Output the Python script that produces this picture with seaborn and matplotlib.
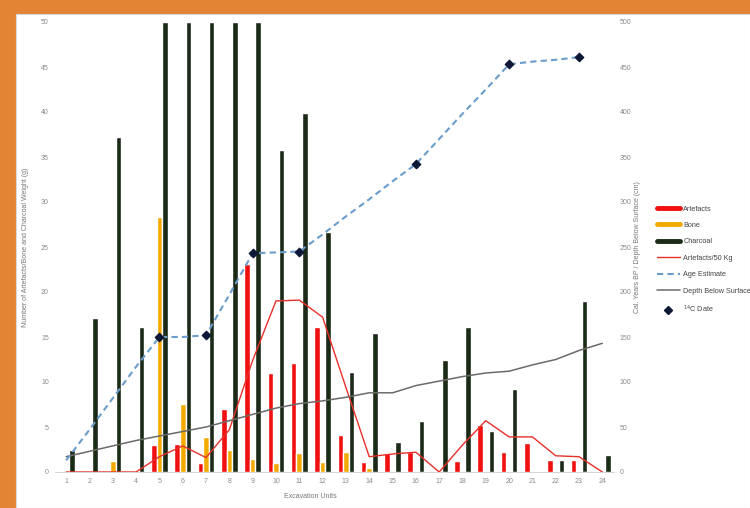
import numpy as np
import pandas as pd
import matplotlib
matplotlib.use("Agg")
import matplotlib.pyplot as plt
from matplotlib.lines import Line2D
from matplotlib.patches import Rectangle
import seaborn as sns

# ---------------- data ----------------
units = [str(i) for i in range(1, 25)]
artefacts = [0, 0, 0, 0, 3.0, 3.1, 1.0, 7.0, 23.1, 11.0, 12.1, 16.1,
             4.1, 1.1, 2.1, 2.2, 0, 1.2, 5.2, 2.2, 3.2, 1.3, 1.3, 0]
bone = [0, 0, 1.2, 0, 28.3, 7.6, 3.9, 2.4, 1.4, 1.0, 2.1, 1.1,
        2.2, 0.4, 0, 0, 0, 0, 0, 0, 0, 0, 0, 0]
charcoal = [2.5, 17.1, 37.2, 16.1, 50, 50, 50, 50, 50, 35.8, 39.9, 26.7,
            11.1, 15.4, 3.3, 5.7, 12.5, 16.1, 4.6, 9.2, 0, 1.3, 19.0, 1.9]
artefacts_50kg = [0, 0, 0, 0, 1.7, 2.9, 1.6, 4.7, 12.4, 19.0, 19.1, 17.2,
                  9.4, 1.7, 2.0, 2.2, 0, 3.0, 5.7, 3.9, 3.9, 1.8, 1.7, 0]
age_estimate = [13, 47, 82, 117, 150, 150, 152, 197, 243, 244, 245, 264,
                284, 303, 323, 342, 370, 398, 425, 453, 456, 458, 461, np.nan]
depth = [17, 23, 29, 35, 40, 45, 50, 57, 64, 71, 76, 79,
         83, 88, 88, 96, 101, 106, 110, 112, 119, 125, 135, 143]
c14_units = ["5", "7", "9", "11", "16", "20", "23"]
c14_dates = [150, 152, 243, 245, 342, 453, 461]

left_ticks = [0, 5, 10, 15, 20, 25, 30, 35, 40, 45, 50]
right_ticks = [0, 50, 100, 150, 200, 250, 300, 350, 400, 450, 500]

series_names = ["Artefacts", "Bone", "Charcoal"]
colors = {"Artefacts": "#F01010", "Bone": "#F2A900", "Charcoal": "#1B2A17"}

df = pd.DataFrame({
    "unit": units * 3,
    "series": ["Artefacts"] * 24 + ["Bone"] * 24 + ["Charcoal"] * 24,
    "value": artefacts + bone + charcoal,
})

# ---------------- figure ----------------
sns.set_theme(style="white")
plt.rcParams["font.family"] = ["Liberation Sans", "DejaVu Sans"]

fig = plt.figure(figsize=(7.5, 5.08), dpi=100)
fig.patch.set_facecolor("#E38434")
paper = Rectangle((0.021, 0.0), 0.979, 1 - 14 / 508,
                  transform=fig.transFigure, facecolor="white",
                  edgecolor="#d9d9d9", lw=0.8, zorder=-10)
fig.add_artist(paper)

ax = fig.add_axes([54.5 / 750, 36 / 508, 559.5 / 750, 450 / 508])
ax.set_facecolor("none")

sns.barplot(data=df, x="unit", y="value", hue="series", order=units,
            hue_order=series_names, palette=colors, width=0.72, gap=0,
            saturation=1, legend=False, ax=ax, errorbar=None)

xpos = np.arange(len(units))
sns.lineplot(x=xpos, y=artefacts_50kg, ax=ax, color="#E8302A", lw=1.0,
             zorder=4, legend=False)

ax2 = ax.twinx()
ax2.set_facecolor("none")
sns.lineplot(x=xpos, y=depth, ax=ax2, color="#6A6A6A", lw=1.1, legend=False)
sns.lineplot(x=xpos, y=age_estimate, ax=ax2, color="#6A9CCC", lw=1.5,
             legend=False)
ax2.lines[-1].set_linestyle((0, (3, 2)))
c14_pos = [units.index(u) for u in c14_units]
ax2.scatter(c14_pos, c14_dates, marker="D", s=18, color="#0D1836", zorder=5)

ax.set_xlim(-0.5, 23.5)
ax.set_ylim(0, 50)
ax2.set_ylim(0, 500)
ax.set_yticks(left_ticks)
ax.set_yticklabels([str(t) for t in left_ticks])
ax2.set_yticks(right_ticks)
ax2.set_yticklabels([str(t) for t in right_ticks])

for a in (ax, ax2):
    for s in a.spines.values():
        s.set_visible(False)
    a.tick_params(length=0, labelsize=5, colors="#8a8a8a", pad=4)
    a.grid(False)
ax.spines["bottom"].set_visible(True)
ax.spines["bottom"].set_color("#d5d5d5")
ax.spines["bottom"].set_linewidth(0.7)

ax.set_xlabel("Excavation Units", fontsize=5, color="#777777")
ax.xaxis.set_label_coords(0.457, -0.046)
ax.set_ylabel("Number of Artefacts/Bone and Charcoal Weight (g)",
              fontsize=5, color="#777777")
ax.yaxis.set_label_coords(-0.046, 0.5)
ax2.set_ylabel("Cal. Years BP / Depth Below Surface (cm)", fontsize=5,
               color="#777777")
ax2.yaxis.set_label_coords(1.036, 0.5)

handles = [
    Line2D([], [], color=colors["Artefacts"], lw=3.5),
    Line2D([], [], color=colors["Bone"], lw=3.5),
    Line2D([], [], color=colors["Charcoal"], lw=3.5),
    Line2D([], [], color="#E8302A", lw=1.0),
    Line2D([], [], color="#6A9CCC", lw=1.5, ls=(0, (3, 2))),
    Line2D([], [], color="#6A6A6A", lw=1.1),
    Line2D([], [], color="#0D1836", marker="D", ls="none", markersize=4),
]
labels = ["Artefacts", "Bone", "Charcoal", "Artefacts/50 Kg", "Age Estimate",
          "Depth Below Surface", "$^{14}$C Date"]
fig.legend(handles, labels, loc="upper left",
           bbox_to_anchor=(650 / 750, 1 - 199 / 508), frameon=False,
           fontsize=5.2, labelspacing=1.3, handlelength=3.3,
           handletextpad=0.4, labelcolor="#444444")

fig.savefig("out.png", dpi=100, facecolor=fig.get_facecolor())
